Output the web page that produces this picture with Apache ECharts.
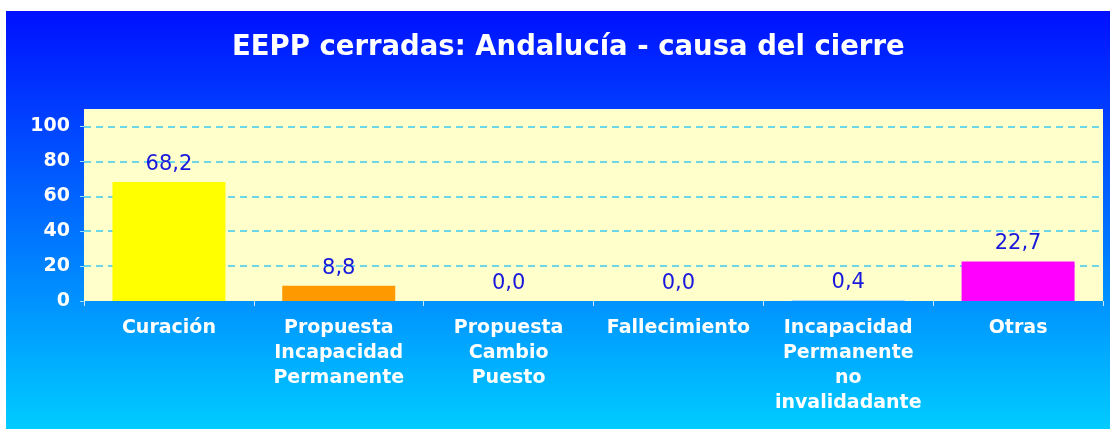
<!DOCTYPE html>
<html>
<head>
<meta charset="utf-8">
<script src="https://cdn.jsdelivr.net/npm/echarts@6/dist/echarts.min.js"></script>
<style>
  html, body { margin: 0; padding: 0; background: #ffffff; }
  #chart { width: 1110px; height: 429px; }
</style>
</head>
<body>
<div id="chart"></div>
<script>
// Closed cases in Andalucía by closing cause (percent)
const categories = [
  'Curación',
  'Propuesta Incapacidad Permanente',
  'Propuesta Cambio Puesto',
  'Fallecimiento',
  'Incapacidad Permanente no invalidadante',
  'Otras'
];
const values = [68.2, 8.8, 0.0, 0.0, 0.4, 22.7];
const yTicks = [0, 20, 40, 60, 80, 100];
const titleText = 'EEPP cerradas: Andalucía - causa del cierre';

// One fill per bar
const barColors = ['#ffff00', '#ff9900', '#99ccff', '#99ccff', '#99ccff', '#ff00ff'];

const chart = echarts.init(document.getElementById('chart'), null, { renderer: 'canvas' });

const option = {
  backgroundColor: '#ffffff',
  animation: false,
  graphic: [
    {
      type: 'rect',
      z: -10,
      silent: true,
      shape: { x: 6, y: 11, width: 1104, height: 418 },
      style: {
        fill: new echarts.graphic.LinearGradient(0, 0, 0, 1, [
          { offset: 0, color: '#0010ff' },
          { offset: 1, color: '#00ccff' }
        ])
      }
    }
  ],
  title: {
    text: titleText,
    left: 227,
    top: 29,
    textStyle: {
      color: '#ffffff',
      fontFamily: 'DejaVu Sans',
      fontWeight: 'bold',
      fontSize: 27.5
    }
  },
  grid: {
    left: 84,
    right: 7,
    top: 109,
    bottom: 128,
    show: true,
    backgroundColor: '#ffffcc',
    borderWidth: 0,
    containLabel: false
  },
  xAxis: {
    type: 'category',
    data: categories,
    axisLine: { show: false },
    axisTick: {
      show: true,
      length: 5,
      lineStyle: { color: '#cfe6ff', width: 1 }
    },
    axisLabel: {
      interval: 0,
      margin: 15,
      color: '#ffffff',
      fontFamily: 'DejaVu Sans',
      fontWeight: 'bold',
      fontSize: 19,
      lineHeight: 25,
      formatter: function (v) { return v.split(' ').join('\n'); }
    }
  },
  yAxis: {
    type: 'value',
    min: 0,
    max: 110,
    interval: 20,
    axisLine: { show: false },
    axisTick: {
      show: true,
      length: 4,
      customValues: yTicks,
      lineStyle: { color: '#9fe0ff', width: 1 }
    },
    axisLabel: {
      customValues: yTicks,
      margin: 14,
      color: '#ffffff',
      fontFamily: 'DejaVu Sans',
      fontWeight: 'bold',
      fontSize: 19
    },
    splitLine: {
      show: true,
      showMinLine: false,
      lineStyle: { color: '#3ccbf0', type: [7, 5], width: 1.5 }
    }
  },
  series: [
    {
      type: 'bar',
      barWidth: 113,
      data: values.map(function (v, i) {
        return { value: v, itemStyle: { color: barColors[i] } };
      }),
      label: {
        show: true,
        position: 'top',
        distance: 7,
        color: '#1818dc',
        fontFamily: 'DejaVu Sans',
        fontSize: 21,
        formatter: function (p) { return p.value.toFixed(1).replace('.', ','); }
      }
    }
  ]
};

chart.setOption(option);
</script>
</body>
</html>
